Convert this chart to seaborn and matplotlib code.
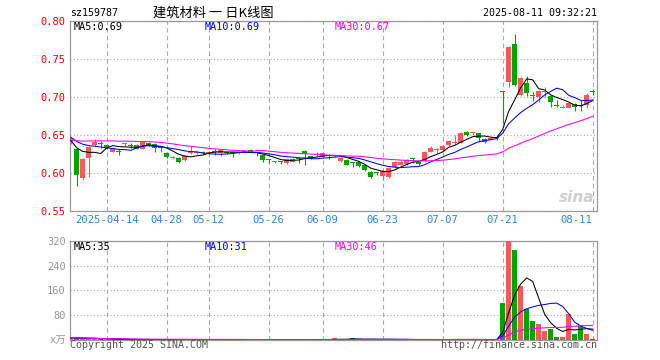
import pandas as pd
import matplotlib
matplotlib.use('Agg')
import matplotlib.pyplot as plt
import seaborn as sns

# trading days shown (2025)
dates = ['04-03', '04-07', '04-08', '04-09', '04-10', '04-11',
         '04-14', '04-15', '04-16', '04-17', '04-18', '04-21', '04-22', '04-23', '04-24', '04-25',
         '04-28', '04-29', '04-30',
         '05-06', '05-07', '05-08', '05-09', '05-12', '05-13', '05-14', '05-15', '05-16',
         '05-19', '05-20', '05-21', '05-22', '05-23', '05-26', '05-27', '05-28', '05-29', '05-30',
         '06-03', '06-04', '06-05', '06-06', '06-09', '06-10', '06-11', '06-12', '06-13',
         '06-16', '06-17', '06-18', '06-19', '06-20', '06-23', '06-24', '06-25', '06-26', '06-27', '06-30',
         '07-01', '07-02', '07-03', '07-04', '07-07', '07-08', '07-09', '07-10', '07-11',
         '07-14', '07-15', '07-16', '07-17', '07-18', '07-21', '07-22', '07-23', '07-24', '07-25',
         '07-28', '07-29', '07-30', '07-31', '08-01', '08-04', '08-05', '08-06', '08-07', '08-08', '08-11']

open_ = [0.641, 0.632, 0.593, 0.620, 0.637, 0.639, 0.637, 0.628, 0.629, 0.638,
         0.637, 0.637, 0.632, 0.640, 0.638, 0.634, 0.626, 0.620, 0.620, 0.617,
         0.626, 0.626, 0.628, 0.626, 0.629, 0.626, 0.628, 0.627, 0.626, 0.627,
         0.630, 0.627, 0.624, 0.618, 0.614, 0.615, 0.613, 0.615, 0.619, 0.629,
         0.622, 0.6235, 0.621, 0.623, 0.6225, 0.616, 0.617, 0.614, 0.614, 0.611,
         0.601, 0.601, 0.596, 0.595, 0.608, 0.611, 0.612, 0.619, 0.614, 0.616,
         0.628, 0.630, 0.630, 0.637, 0.640, 0.640, 0.654, 0.652, 0.652, 0.645,
         0.644, 0.647, 0.708, 0.720, 0.770, 0.703, 0.718, 0.702, 0.700, 0.706,
         0.701, 0.689, 0.686, 0.686, 0.691, 0.689, 0.690, 0.708]
high = [0.647, 0.633, 0.620, 0.636, 0.645, 0.642, 0.638, 0.634, 0.631, 0.640,
        0.639, 0.638, 0.642, 0.641, 0.639, 0.635, 0.627, 0.622, 0.621, 0.623,
        0.636, 0.629, 0.629, 0.629, 0.631, 0.632, 0.629, 0.628, 0.628, 0.629,
        0.631, 0.628, 0.625, 0.619, 0.616, 0.616, 0.620, 0.620, 0.621, 0.630,
        0.622, 0.628, 0.627, 0.624, 0.624, 0.621, 0.618, 0.615, 0.615, 0.612,
        0.602, 0.601, 0.604, 0.608, 0.616, 0.617, 0.618, 0.620, 0.615, 0.629,
        0.635, 0.633, 0.636, 0.643, 0.650, 0.654, 0.655, 0.655, 0.653, 0.646,
        0.647, 0.648, 0.708, 0.767, 0.783, 0.726, 0.728, 0.707, 0.709, 0.713,
        0.702, 0.696, 0.689, 0.693, 0.692, 0.696, 0.705, 0.710]
low = [0.638, 0.583, 0.591, 0.595, 0.635, 0.633, 0.632, 0.627, 0.624, 0.636,
       0.633, 0.631, 0.631, 0.636, 0.628, 0.628, 0.620, 0.619, 0.613, 0.616,
       0.625, 0.625, 0.625, 0.625, 0.624, 0.622, 0.625, 0.621, 0.625, 0.626,
       0.627, 0.622, 0.615, 0.613, 0.613, 0.612, 0.612, 0.614, 0.613, 0.610,
       0.618, 0.622, 0.620, 0.618, 0.621, 0.615, 0.610, 0.608, 0.608, 0.602,
       0.593, 0.597, 0.591, 0.594, 0.607, 0.610, 0.611, 0.613, 0.610, 0.615,
       0.627, 0.626, 0.629, 0.636, 0.637, 0.639, 0.649, 0.650, 0.641, 0.640,
       0.643, 0.643, 0.666, 0.713, 0.714, 0.701, 0.701, 0.695, 0.693, 0.700,
       0.687, 0.687, 0.685, 0.685, 0.682, 0.682, 0.686, 0.703]
close = [0.646, 0.597, 0.618, 0.634, 0.641, 0.638, 0.634, 0.633, 0.628, 0.639,
         0.636, 0.632, 0.641, 0.637, 0.633, 0.633, 0.621, 0.621, 0.615, 0.622,
         0.627, 0.628, 0.626, 0.628, 0.628, 0.630, 0.626, 0.626, 0.627, 0.628,
         0.627, 0.626, 0.617, 0.617, 0.615, 0.614, 0.619, 0.619, 0.618, 0.625,
         0.619, 0.624, 0.626, 0.622, 0.6235, 0.620, 0.611, 0.613, 0.609, 0.604,
         0.595, 0.600, 0.603, 0.607, 0.615, 0.614, 0.617, 0.618, 0.612, 0.628,
         0.633, 0.631, 0.635, 0.642, 0.641, 0.653, 0.650, 0.653, 0.646, 0.641,
         0.646, 0.646, 0.707, 0.766, 0.716, 0.725, 0.705, 0.701, 0.708, 0.707,
         0.693, 0.688, 0.687, 0.692, 0.687, 0.688, 0.703, 0.707]
# volume, unit: 万
volume = [7, 6, 5, 5, 4, 2, 1.5, 1, 1.2, 0.8,
          1, 1.5, 2, 1, 1.2, 0.8, 1.5, 1, 1.2, 0.8,
          2, 1, 0.6, 0.8, 1, 1.2, 0.7, 0.9, 0.5, 0.6,
          1, 0.8, 1.5, 1, 0.6, 0.7, 1.2, 0.8, 0.9, 2.5,
          1, 0.8, 1.5, 1.2, 6, 1, 2, 5, 1.5, 2,
          2.5, 1, 2, 3, 2, 1, 1.5, 1, 0.8, 2,
          1.5, 1, 1.2, 2, 1.5, 3, 1.5, 1, 1.5, 1,
          0.8, 1, 119, 318, 291, 173, 99, 62, 51, 29,
          37, 10, 10, 85, 20, 48, 20, 2]
# closes before the first shown day (estimated, only feed the moving averages)
prior_close = [0.632, 0.634, 0.630, 0.636, 0.638, 0.635, 0.633, 0.637, 0.640, 0.642,
               0.639, 0.641, 0.644, 0.646, 0.648, 0.650, 0.652, 0.651, 0.654, 0.656,
               0.653, 0.655, 0.652, 0.650, 0.648, 0.645, 0.642, 0.640, 0.641]

tick_dates = ['04-14', '04-28', '05-12', '05-26', '06-09', '06-23', '07-07', '07-21', '08-11']
tick_text = ['2025-04-14', '04-28', '05-12', '05-26', '06-09', '06-23', '07-07', '07-21', '08-11']
price_ticks = [0.55, 0.60, 0.65, 0.70, 0.75, 0.80]
vol_ticks = [0, 80, 160, 240, 320]
vol_tick_text = ['x万', '80', '160', '240', '320']

RED = '#ff5757'
GREEN = '#00a400'
GRID = '#aaaaaa'

df = pd.DataFrame({'date': dates, 'open': open_, 'high': high, 'low': low,
                   'close': close, 'volume': volume})
df['idx'] = range(len(df))
n_prior = len(prior_close)
all_close = pd.Series(prior_close + close)
for w in [5, 10, 30]:
    df[f'ma{w}'] = all_close.rolling(w, min_periods=1).mean().iloc[n_prior:].values
    df[f'vma{w}'] = df['volume'].rolling(w, min_periods=1).mean()
df['up'] = df['close'] >= df['open']
df['color'] = df['up'].map({True: RED, False: GREEN})

sns.set_style('white')
plt.rcParams['font.family'] = ['DejaVu Sans Mono', 'Noto Sans CJK SC']
plt.rcParams['font.size'] = 7.3

fig = plt.figure(figsize=(6.6, 3.6), dpi=100)
ax = fig.add_axes([70 / 660, 1 - 211 / 360, 527 / 660, 190 / 360])
axv = fig.add_axes([70 / 660, 1 - 340 / 360, 527 / 660, 99.3 / 360])

tick_idx = [dates.index(d) for d in tick_dates]

for a in (ax, axv):
    a.set_axisbelow(True)
    for s in a.spines.values():
        s.set_color('#999999')
        s.set_linewidth(0.9)
    a.set_xlim(-0.12, 87.72)
    a.set_xticks(tick_idx)
    a.grid(axis='x', color=GRID, linestyle=(0, (4, 3)), linewidth=0.8)
    a.grid(axis='y', color=GRID, linestyle=(0, (1, 2)), linewidth=0.8)
    a.tick_params(length=0, pad=3)

# candles
body_h = (df['close'] - df['open']).abs().clip(lower=0.0013)
body_b = df[['open', 'close']].min(axis=1)
ax.vlines(df['idx'], df['low'], df['high'], colors=df['color'], linewidth=0.8, zorder=2)
ax.bar(df['idx'], body_h, bottom=body_b, width=0.8, color=df['color'], linewidth=0, zorder=3)

ma_colors = {'ma5': 'black', 'ma10': '#0000ff', 'ma30': '#ff00ff'}
for col, c in ma_colors.items():
    sns.lineplot(data=df, x='idx', y=col, ax=ax, color=c, linewidth=0.75, zorder=4)

ax.set_ylim(0.55, 0.80)
ax.set_yticks(price_ticks)
ax.set_yticklabels([f'{v:.2f}' for v in price_ticks], color='red', fontsize=7.5)
ax.set_xticklabels(tick_text, color='#2b86dc', fontsize=7.6)
ax.get_xticklabels()[-1].set_horizontalalignment('right')
ax.set_xlabel('')
ax.set_ylabel('')

# volume
axv.bar(df['idx'], df['volume'], width=0.8, color=df['color'], linewidth=0, zorder=3)
for col, c in zip(['vma5', 'vma10', 'vma30'], ma_colors.values()):
    sns.lineplot(data=df, x='idx', y=col, ax=axv, color=c, linewidth=0.75, zorder=4)
axv.set_ylim(0, 320)
axv.set_yticks(vol_ticks)
axv.set_yticklabels(vol_tick_text, color='#999999', fontsize=7.5)
axv.set_xticklabels([])
axv.set_xlabel('')
axv.set_ylabel('')

# legends
lx = [4 / 527, 135 / 527, 265 / 527]
ax.text(lx[0], 0.995, 'MA5:0.69', color='black', transform=ax.transAxes, va='top', fontsize=7.3)
ax.text(lx[1], 0.995, 'MA10:0.69', color='#0000ff', transform=ax.transAxes, va='top', fontsize=7.3)
ax.text(lx[2], 0.995, 'MA30:0.67', color='#ff00ff', transform=ax.transAxes, va='top', fontsize=7.3)
axv.text(lx[0], 0.99, 'MA5:35', color='black', transform=axv.transAxes, va='top', fontsize=7.3)
axv.text(lx[1], 0.99, 'MA10:31', color='#0000ff', transform=axv.transAxes, va='top', fontsize=7.3)
axv.text(lx[2], 0.99, 'MA30:46', color='#ff00ff', transform=axv.transAxes, va='top', fontsize=7.3)

# watermark
ax.text(0.995, 0.03, 'sina', transform=ax.transAxes, ha='right', va='bottom',
        fontsize=11, fontweight='bold', style='italic', color='#cfcfcf',
        family=['DejaVu Sans'])

# header / footer
fig.text(70 / 660, 1 - 13 / 360, 'sz159787', ha='left', va='center', fontsize=7.2, color='black')
fig.text(213 / 660, 1 - 13 / 360, '建筑材料 一 日K线图', ha='center', va='center',
         fontsize=9.5, color='black', family=['Noto Sans CJK SC', 'DejaVu Sans'])
fig.text(597 / 660, 1 - 13 / 360, '2025-08-11 09:32:21', ha='right', va='center', fontsize=7.2, color='black')
fig.text(70 / 660, 1 - 345 / 360, 'Copyright 2025 SINA.COM', ha='left', va='center', fontsize=7.2, color='#555555')
fig.text(597 / 660, 1 - 345 / 360, 'http://finance.sina.com.cn', ha='right', va='center', fontsize=7.2, color='#555555')

fig.savefig('out.png', dpi=100, facecolor='white')
